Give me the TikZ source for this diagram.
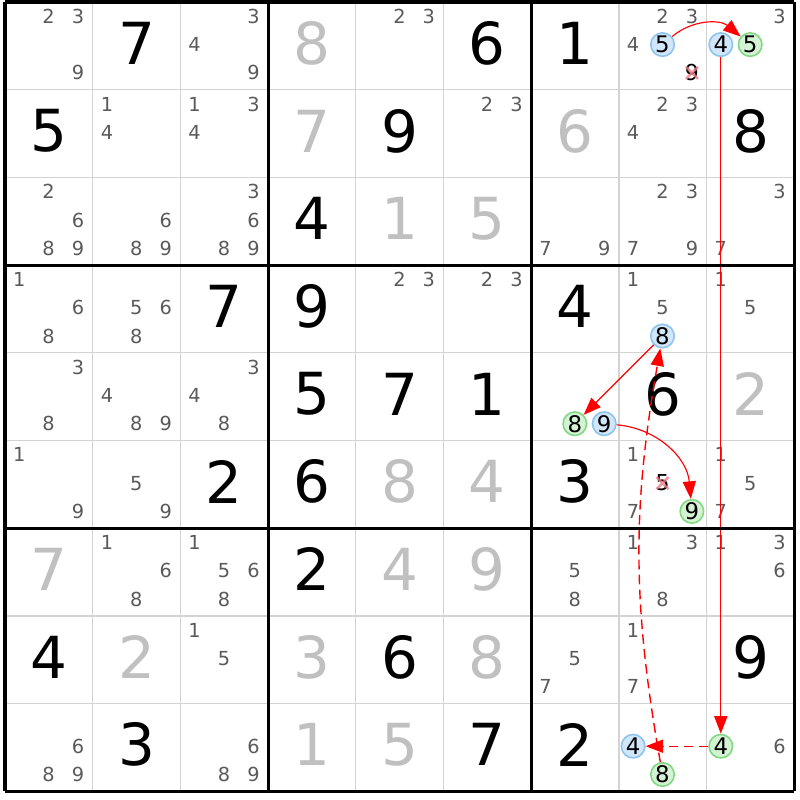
\documentclass[tikz,border=0pt]{standalone}
\usepackage{fontspec}
\setmainfont{DejaVu Sans}
\usetikzlibrary{arrows.meta}

\definecolor{candgray}{RGB}{90,90,90}
\definecolor{solvedgray}{RGB}{192,192,192}
\definecolor{thingray}{RGB}{211,211,211}
\definecolor{onblue}{RGB}{140,195,240}
\definecolor{onbluefill}{RGB}{210,230,250}
\definecolor{offgreen}{RGB}{130,215,130}
\definecolor{offgreenfill}{RGB}{212,243,212}
\definecolor{elimred}{RGB}{240,120,130}

\newcommand{\cellsz}{87.7}

\tikzset{
  big/.style={font=\fontsize{33}{33}\selectfont, inner sep=0pt, yshift=1.5pt},
  given/.style={big, text=black},
  solved/.style={big, text=solvedgray},
  cand/.style={font=\fontsize{11}{11}\selectfont, text=candgray, inner sep=0pt},
  hl/.style={cand, circle, minimum size=0.47cm, line width=0.9pt, text=black,
    font=\fontsize{13}{13}\selectfont},
  on/.style={hl, draw=onblue, fill=onbluefill},
  off/.style={hl, draw=offgreen, fill=offgreenfill},
  elim/.style={cand, text=black, font=\fontsize{12.5}{12.5}\selectfont},
  xmark/.style={elimred, line width=1.4pt, opacity=0.8},
  link/.style={red, line width=0.65pt, -{Triangle[length=10pt,width=7.5pt]}},
  weak/.style={link, line width=0.8pt, dash pattern=on 5.5pt off 3pt},
  thinline/.style={thingray, line width=0.75pt},
  boxline/.style={black, line width=1.8pt},
}

% big digit: style, row, col, value
\newcommand{\bigdigit}[4][given]{%
  \node[#1] (d#2#3) at ({5+(#3-0.5)*\cellsz},{2+(#2-0.5)*\cellsz}) {#4};}
% pencil mark: style, row, col, candidate
\newcommand{\cnd}[4][cand]{%
  \pgfmathsetmacro\cx{5+(#3-1)*\cellsz+14.2+29.4*mod(#4-1,3)}%
  \pgfmathsetmacro\cy{2+(#2-1)*\cellsz+14.3+28.3*div(#4-1,3)}%
  \node[#1] (c#2#3#4) at (\cx,\cy) {#4};}
\newcommand{\cnds}[3]{\foreach \v in {#3} {\cnd{#1}{#2}{\v}}}
% eliminated candidate
\newcommand{\elimcand}[3]{%
  \cnd[elim]{#1}{#2}{#3}
  \draw[xmark] ([shift={(-6,-6)}]c#1#2#3.center) -- ([shift={(6,6)}]c#1#2#3.center)
               ([shift={(-6,6)}]c#1#2#3.center) -- ([shift={(6,-6)}]c#1#2#3.center);}

\begin{document}
\begin{tikzpicture}[x=0.02cm, y=-0.02cm]
  \useasboundingbox[fill=white] (0,0) rectangle (800,800);

  % grid
  \foreach \i in {1,...,8} {
    \draw[thinline] ({5+\i*\cellsz},2) -- ({5+\i*\cellsz},{2+9*\cellsz});
    \draw[thinline] (5,{2+\i*\cellsz}) -- ({5+9*\cellsz},{2+\i*\cellsz});
  }

  % row 1
  \cnds{1}{1}{2,3,9}
  \bigdigit{1}{2}{7}
  \cnds{1}{3}{3,4,9}
  \bigdigit[solved]{1}{4}{8}
  \cnds{1}{5}{2,3}
  \bigdigit{1}{6}{6}
  \bigdigit{1}{7}{1}
  \cnds{1}{8}{2,3,4} \cnd[on]{1}{8}{5} \elimcand{1}{8}{9}
  \cnds{1}{9}{3} \cnd[on]{1}{9}{4} \cnd[off]{1}{9}{5}

  % row 2
  \bigdigit{2}{1}{5}
  \cnds{2}{2}{1,4}
  \cnds{2}{3}{1,3,4}
  \bigdigit[solved]{2}{4}{7}
  \bigdigit{2}{5}{9}
  \cnds{2}{6}{2,3}
  \bigdigit[solved]{2}{7}{6}
  \cnds{2}{8}{2,3,4}
  \bigdigit{2}{9}{8}

  % row 3
  \cnds{3}{1}{2,6,8,9}
  \cnds{3}{2}{6,8,9}
  \cnds{3}{3}{3,6,8,9}
  \bigdigit{3}{4}{4}
  \bigdigit[solved]{3}{5}{1}
  \bigdigit[solved]{3}{6}{5}
  \cnds{3}{7}{7,9}
  \cnds{3}{8}{2,3,7,9}
  \cnds{3}{9}{3,7}

  % row 4
  \cnds{4}{1}{1,6,8}
  \cnds{4}{2}{5,6,8}
  \bigdigit{4}{3}{7}
  \bigdigit{4}{4}{9}
  \cnds{4}{5}{2,3}
  \cnds{4}{6}{2,3}
  \bigdigit{4}{7}{4}
  \cnds{4}{8}{1,5} \cnd[on]{4}{8}{8}
  \cnds{4}{9}{1,5}

  % row 5
  \cnds{5}{1}{3,8}
  \cnds{5}{2}{4,8,9}
  \cnds{5}{3}{3,4,8}
  \bigdigit{5}{4}{5}
  \bigdigit{5}{5}{7}
  \bigdigit{5}{6}{1}
  \cnd[off]{5}{7}{8} \cnd[on]{5}{7}{9}
  \bigdigit{5}{8}{6}
  \bigdigit[solved]{5}{9}{2}

  % row 6
  \cnds{6}{1}{1,9}
  \cnds{6}{2}{5,9}
  \bigdigit{6}{3}{2}
  \bigdigit{6}{4}{6}
  \bigdigit[solved]{6}{5}{8}
  \bigdigit[solved]{6}{6}{4}
  \bigdigit{6}{7}{3}
  \cnds{6}{8}{1,7} \elimcand{6}{8}{5} \cnd[off]{6}{8}{9}
  \cnds{6}{9}{1,5,7}

  % row 7
  \bigdigit[solved]{7}{1}{7}
  \cnds{7}{2}{1,6,8}
  \cnds{7}{3}{1,5,6,8}
  \bigdigit{7}{4}{2}
  \bigdigit[solved]{7}{5}{4}
  \bigdigit[solved]{7}{6}{9}
  \cnds{7}{7}{5,8}
  \cnds{7}{8}{1,3,8}
  \cnds{7}{9}{1,3,6}

  % row 8
  \bigdigit{8}{1}{4}
  \bigdigit[solved]{8}{2}{2}
  \cnds{8}{3}{1,5}
  \bigdigit[solved]{8}{4}{3}
  \bigdigit{8}{5}{6}
  \bigdigit[solved]{8}{6}{8}
  \cnds{8}{7}{5,7}
  \cnds{8}{8}{1,7}
  \bigdigit{8}{9}{9}

  % row 9
  \cnds{9}{1}{6,8,9}
  \bigdigit{9}{2}{3}
  \cnds{9}{3}{6,8,9}
  \bigdigit[solved]{9}{4}{1}
  \bigdigit[solved]{9}{5}{5}
  \bigdigit{9}{6}{7}
  \bigdigit{9}{7}{2}
  \cnd[on]{9}{8}{4} \cnd[off]{9}{8}{8}
  \cnd[off]{9}{9}{4} \cnds{9}{9}{6}

  % chain
  \draw[link] (c185) to[bend left=40] (c195);
  \draw[link] (c194) -- (c994);
  \draw[weak] (c994) -- (c984);
  \draw[weak] (c988) to[bend left=10] (c488);
  \draw[link] (c488) -- (c578);
  \draw[link] (c579) to[bend left=40] (c689);

  % boxes
  \foreach \i in {0,3,6,9} {
    \draw[boxline] ({5+\i*\cellsz},2) -- ({5+\i*\cellsz},{2+9*\cellsz});
    \draw[boxline] (5,{2+\i*\cellsz}) -- ({5+9*\cellsz},{2+\i*\cellsz});
  }
\end{tikzpicture}
\end{document}
